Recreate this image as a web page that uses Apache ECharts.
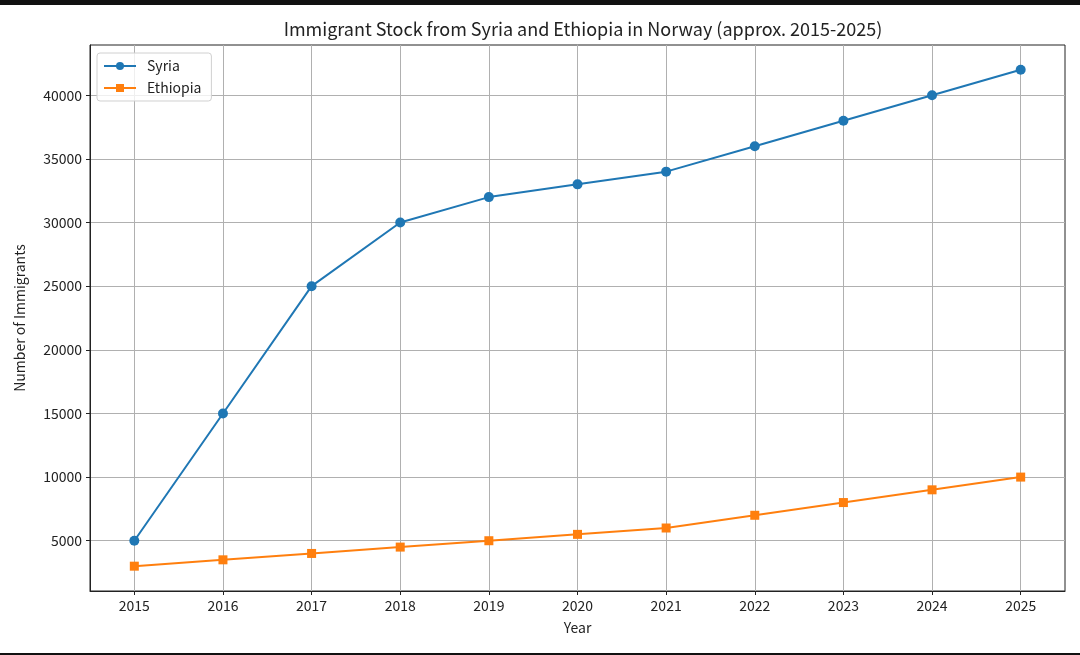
<!DOCTYPE html>
<html>
<head>
<meta charset="utf-8">
<script src="https://cdn.jsdelivr.net/npm/echarts@6/dist/echarts.min.js"></script>
<style>
  html, body { margin: 0; padding: 0; background: #fff; }
  #chart { width: 1080px; height: 655px; }
</style>
</head>
<body>
<div id="chart"></div>
<script>
var years = [2015, 2016, 2017, 2018, 2019, 2020, 2021, 2022, 2023, 2024, 2025];
var syria = [5000, 15000, 25000, 30000, 32000, 33000, 34000, 36000, 38000, 40000, 42000];
var ethiopia = [3000, 3500, 4000, 4500, 5000, 5500, 6000, 7000, 8000, 9000, 10000];
var yTicks = [5000, 10000, 15000, 20000, 25000, 30000, 35000, 40000];

var font = '"Noto Sans CJK SC", "Noto Sans", sans-serif';

function pairs(vals) {
    return years.map(function (y, i) { return [y, vals[i]]; });
}

var chart = echarts.init(document.getElementById('chart'));

var option = {
    animation: false,
    backgroundColor: '#fff',
    textStyle: { fontFamily: font },
    title: {
        text: 'Immigrant Stock from Syria and Ethiopia in Norway (approx. 2015-2025)',
        left: 578, textAlign: 'center', top: 15,
        textStyle: { fontFamily: font, fontSize: 18, fontWeight: 'normal', color: '#222' }
    },
    legend: {
        left: 97, top: 53, orient: 'vertical',
        backgroundColor: 'rgba(255,255,255,0.8)',
        borderColor: '#d0d0d0', borderWidth: 1, borderRadius: 3,
        padding: [6, 10, 6, 6], itemGap: 8,
        itemWidth: 32, itemHeight: 10,
        textStyle: { fontFamily: font, fontSize: 14, color: '#222', padding: [0, 0, 0, 6] },
        data: ['Syria', 'Ethiopia']
    },
    grid: {
        left: 90, top: 45, right: 15, bottom: 64,
        show: true, borderColor: '#222', borderWidth: 1
    },
    xAxis: {
        type: 'value', min: 2014.5, max: 2025.5,
        name: 'Year', nameLocation: 'middle', nameGap: 30,
        nameTextStyle: { fontFamily: font, fontSize: 14, color: '#222' },
        axisLine: { lineStyle: { color: '#222' } },
        axisTick: { show: true, length: 4, customValues: years, lineStyle: { color: '#222' } },
        axisLabel: {
            customValues: years, fontSize: 14, color: '#222', margin: 8,
            formatter: function (v) { return String(v); }
        },
        splitLine: { show: true, lineStyle: { color: '#b0b0b0', width: 1 } }
    },
    yAxis: {
        type: 'value', min: 1050, max: 43950,
        name: 'Number of Immigrants', nameLocation: 'middle', nameGap: 63,
        nameTextStyle: { fontFamily: font, fontSize: 14, color: '#222' },
        axisLine: { show: true, lineStyle: { color: '#222' } },
        axisTick: { show: true, length: 4, customValues: yTicks, lineStyle: { color: '#222' } },
        axisLabel: {
            customValues: yTicks, fontSize: 14, color: '#222', margin: 8,
            formatter: function (v) { return String(v); }
        },
        splitLine: { show: true, lineStyle: { color: '#b0b0b0', width: 1 } }
    },
    series: [
        {
            name: 'Syria', type: 'line', data: pairs(syria),
            symbol: 'circle', symbolSize: 10,
            lineStyle: { color: '#1f77b4', width: 2 },
            itemStyle: { color: '#1f77b4' }
        },
        {
            name: 'Ethiopia', type: 'line', data: pairs(ethiopia),
            symbol: 'rect', symbolSize: 9,
            lineStyle: { color: '#ff7f0e', width: 2 },
            itemStyle: { color: '#ff7f0e' }
        }
    ],
    graphic: [
        { type: 'rect', shape: { x: 0, y: 0, width: 1080, height: 5 }, style: { fill: '#111' } },
        { type: 'rect', shape: { x: 0, y: 653, width: 1080, height: 2 }, style: { fill: '#111' } }
    ]
};

chart.setOption(option);
</script>
</body>
</html>
